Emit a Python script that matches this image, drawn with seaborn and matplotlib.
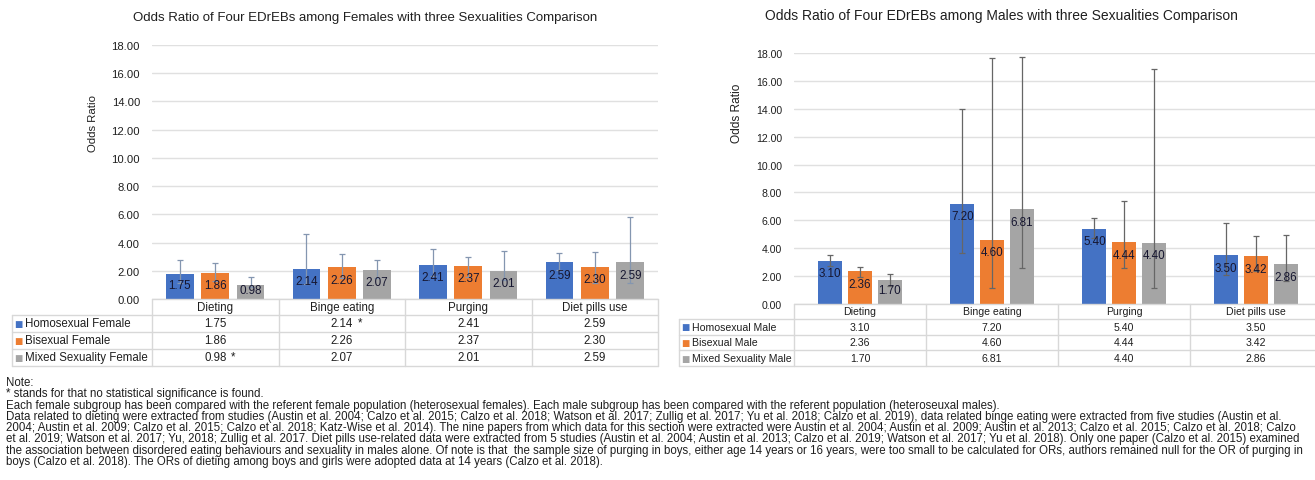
import numpy as np
import pandas as pd
import matplotlib
matplotlib.use("Agg")
import matplotlib.pyplot as plt
import matplotlib.transforms as mtransforms
from matplotlib.ticker import FormatStrFormatter
import seaborn as sns

# ---------------- data ----------------
categories = ["Dieting", "Binge eating", "Purging", "Diet pills use"]

female_groups = ["Homosexual Female", "Bisexual Female", "Mixed Sexuality Female"]
female_homo = [1.75, 2.14, 2.41, 2.59]
female_bi = [1.86, 2.26, 2.37, 2.30]
female_mixed = [0.98, 2.07, 2.01, 2.59]
female_homo_ci = [(1.15, 2.78), (1.05, 4.58), (1.60, 3.56), (2.05, 3.23)]
female_bi_ci = [(1.27, 2.57), (1.50, 3.16), (1.57, 3.00), (1.15, 3.33)]
female_mixed_ci = [(0.86, 1.57), (1.50, 2.78), (1.38, 3.40), (1.15, 5.83)]
# cells flagged as not statistically significant (group index, category index)
female_nonsig = [(0, 1), (2, 0)]

male_groups = ["Homosexual Male", "Bisexual Male", "Mixed Sexuality Male"]
male_homo = [3.10, 7.20, 5.40, 3.50]
male_bi = [2.36, 4.60, 4.44, 3.42]
male_mixed = [1.70, 6.81, 4.40, 2.86]
male_homo_ci = [(2.70, 3.54), (3.66, 14.00), (4.70, 6.15), (2.08, 5.79)]
male_bi_ci = [(1.96, 2.68), (1.15, 17.62), (2.60, 7.37), (2.40, 4.90)]
male_mixed_ci = [(1.31, 2.12), (2.58, 17.70), (1.15, 16.86), (1.63, 4.97)]
male_nonsig = []

colors = ["#4472C4", "#ED7D31", "#A5A5A5"]
yticks = np.arange(0, 19, 2)

female_title = "Odds Ratio of Four EDrEBs among Females with three Sexualities Comparison"
male_title = "Odds Ratio of Four EDrEBs among Males with three Sexualities Comparison"

note_lines = [
    "Note:",
    "* stands for that no statistical significance is found.",
    "Each female subgroup has been compared with the referent female population (heterosexual females). Each male subgroup has been compared with the referent population (heteroseuxal males).",
    "Data related to dieting were extracted from studies (Austin et al. 2004; Calzo et al. 2015; Calzo et al. 2018; Watson et al. 2017; Zullig et al. 2017; Yu et al. 2018; Calzo et al. 2019), data related binge eating were extracted from five studies (Austin et al.",
    "2004; Austin et al. 2009; Calzo et al. 2015; Calzo et al. 2018; Katz-Wise et al. 2014). The nine papers from which data for this section were extracted were Austin et al. 2004; Austin et al. 2009; Austin et al. 2013; Calzo et al. 2015; Calzo et al. 2018; Calzo",
    "et al. 2019; Watson et al. 2017; Yu, 2018; Zullig et al. 2017. Diet pills use-related data were extracted from 5 studies (Austin et al. 2004; Austin et al. 2013; Calzo et al. 2019; Watson et al. 2017; Yu et al. 2018). Only one paper (Calzo et al. 2015) examined",
    "the association between disordered eating behaviours and sexuality in males alone. Of note is that  the sample size of purging in boys, either age 14 years or 16 years, were too small to be calculated for ORs, authors remained null for the OR of purging in",
    "boys (Calzo et al. 2018). The ORs of dieting among boys and girls were adopted data at 14 years (Calzo et al. 2018).",
]

# ---------------- style ----------------
sns.set_theme(style="white")
plt.rcParams["font.family"] = ["Liberation Sans", "DejaVu Sans"]
TXT = "#1f1f1f"
GRID = "#e0e0e0"
TABLE_LINE = "#d8d8d8"
FS_NOTE = 8.3
FS_LABEL = 8.4

W, H = 1315, 481
fig = plt.figure(figsize=(W / 100, H / 100), dpi=100)
fig.patch.set_facecolor("white")


def box(x0, y0, x1, y1):
    """Figure-fraction rectangle from pixel edges (origin top-left)."""
    return [x0 / W, 1 - y1 / H, (x1 - x0) / W, (y1 - y0) / H]


def draw_panel(ax_box, table_box, legend_w, header_frac, groups, series, cis,
               nonsig, bar_width, bar_gap, err_color, title, title_xy, ylab_xy,
               fs_tick, fs_table, fs_title, fs_ylab):
    ax = fig.add_axes(ax_box)
    df = pd.DataFrame({
        "Behaviour": categories * len(groups),
        "Group": np.repeat(groups, len(categories)),
        "OR": np.concatenate(series),
    })
    sns.barplot(data=df, x="Behaviour", y="OR", hue="Group", hue_order=groups,
                order=categories, palette=colors, saturation=1, width=bar_width,
                gap=bar_gap, errorbar=None, legend=False, linewidth=0, ax=ax,
                zorder=2)
    ax.set_ylim(0, 18)
    ax.set_xlim(-0.5, len(categories) - 0.5)
    ax.set_yticks(yticks)
    ax.yaxis.set_major_formatter(FormatStrFormatter("%.2f"))
    ax.tick_params(axis="y", length=0, pad=8.6, labelsize=fs_tick, labelcolor=TXT)
    ax.tick_params(axis="x", length=0, labelbottom=False)
    ax.set_xlabel("")
    ax.set_ylabel("")
    for s in ax.spines.values():
        s.set_visible(False)
    ax.grid(axis="y", color=GRID, linewidth=1.0, zorder=0)
    ax.set_axisbelow(True)
    ax.set_facecolor("white")

    # error bars and value labels
    px_per_unit = ax.transData.transform((0, 1))[1] - ax.transData.transform((0, 0))[1]
    off_px = 12.5
    bar_sets = list(ax.containers[:len(groups)])
    for gi, cont in enumerate(bar_sets):
        vals = series[gi]
        for ci, bar in enumerate(cont):
            xc = bar.get_x() + bar.get_width() / 2
            v = vals[ci]
            lo, hi = cis[gi][ci]
            ax.errorbar(xc, v, yerr=[[v - lo], [hi - v]], fmt="none",
                        ecolor=err_color, elinewidth=0.9, capsize=2.3,
                        capthick=0.9, zorder=3)
            if v * px_per_unit > 2 * off_px:
                ylab = v - off_px / px_per_unit
            else:
                ylab = v / 2 + 0.15
            ax.text(xc, ylab, f"{v:.2f}", ha="center", va="center",
                    fontsize=FS_LABEL, color="#161630", zorder=4)

    # title and axis label
    fig.text(title_xy[0] / W, 1 - title_xy[1] / H, title, ha="center",
             va="center", fontsize=fs_title, color=TXT)
    fig.text(ylab_xy[0] / W, 1 - ylab_xy[1] / H, "Odds Ratio", ha="center",
             va="center", rotation=90, fontsize=fs_ylab, color=TXT)

    # data table under the plot
    tax = fig.add_axes(table_box)
    tax.axis("off")
    tr = mtransforms.blended_transform_factory(ax.transData, tax.transAxes)
    n_cat = len(categories)
    x_left = -0.5 - legend_w
    x_right = n_cat - 0.5
    nrows = len(groups)
    row_h = (1 - header_frac) / nrows
    row_edges = [1 - header_frac - row_h * i for i in range(nrows + 1)]
    lk = dict(color=TABLE_LINE, linewidth=1.0, transform=tr, clip_on=False)
    tax.plot([-0.5, x_right], [1, 1], **lk)
    for y in row_edges:
        tax.plot([x_left, x_right], [y, y], **lk)
    tax.plot([x_left, x_left], [row_edges[0], row_edges[-1]], **lk)
    for i in range(n_cat + 1):
        xb = -0.5 + i
        tax.plot([xb, xb], [1, 0], **lk)
    for i, cat in enumerate(categories):
        tax.text(i, 1 - header_frac / 2, cat, transform=tr, ha="center",
                 va="center", fontsize=fs_table, color=TXT, clip_on=False)
    sq = mtransforms.offset_copy(tr, fig=fig, x=6.5, y=0, units="dots")
    lab = mtransforms.offset_copy(tr, fig=fig, x=13, y=0, units="dots")
    for gi, g in enumerate(groups):
        yc = row_edges[gi] - row_h / 2
        tax.text(x_left, yc, "\u25A0", transform=sq, ha="center", va="center",
                 fontsize=6.3, color=colors[gi], clip_on=False,
                 family="DejaVu Sans")
        tax.text(x_left, yc, g, transform=lab, ha="left", va="center",
                 fontsize=fs_table, color=TXT, clip_on=False)
        for ci in range(n_cat):
            v = series[gi][ci]
            tax.text(ci, yc, f"{v:.2f}", transform=tr, ha="center",
                     va="center", fontsize=fs_table, color=TXT, clip_on=False)
            if (gi, ci) in nonsig:
                star_tr = mtransforms.offset_copy(tr, fig=fig, x=18, y=1,
                                                  units="dots")
                tax.text(ci, yc, "*", transform=star_tr, ha="center",
                         va="center", fontsize=fs_table, color=TXT,
                         clip_on=False)
    return ax


# female panel
draw_panel(box(152, 46, 658, 300), box(12, 300, 658, 367),
           legend_w=(152 - 12) / ((658 - 152) / 4), header_frac=16 / 67,
           groups=female_groups,
           series=[female_homo, female_bi, female_mixed],
           cis=[female_homo_ci, female_bi_ci, female_mixed_ci],
           nonsig=female_nonsig, bar_width=0.84, bar_gap=0.22,
           err_color="#8496B0", title=female_title, title_xy=(365, 18),
           ylab_xy=(93, 123), fs_tick=8.1, fs_table=8.3, fs_title=9.5,
           fs_ylab=8.2)

# male panel (runs off the right edge of the canvas)
draw_panel(box(794, 54, 1322, 305), box(679, 305, 1322, 367),
           legend_w=(794 - 679) / ((1322 - 794) / 4), header_frac=15 / 62,
           groups=male_groups,
           series=[male_homo, male_bi, male_mixed],
           cis=[male_homo_ci, male_bi_ci, male_mixed_ci],
           nonsig=male_nonsig, bar_width=0.675, bar_gap=0.2,
           err_color="#666666", title=male_title, title_xy=(1001, 16),
           ylab_xy=(737, 113), fs_tick=7.6, fs_table=7.6, fs_title=10.0,
           fs_ylab=8.6)

# footnote block
for i, line in enumerate(note_lines):
    fig.text(6 / W, 1 - (383 + 11.3 * i) / H, line, ha="left", va="center",
             fontsize=FS_NOTE, color=TXT)

fig.savefig("out.png", dpi=100, facecolor="white")
